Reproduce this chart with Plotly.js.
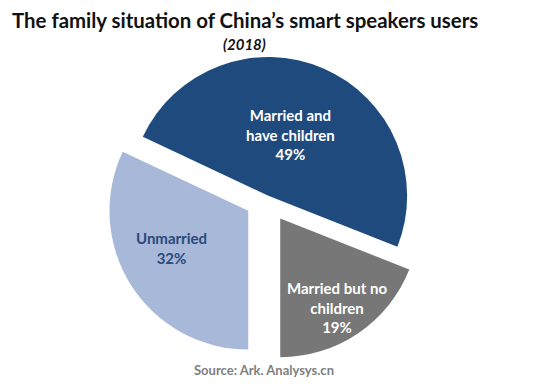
<!DOCTYPE html>
<html>
<head>
<meta charset="utf-8">
<script src="https://cdn.plot.ly/plotly-3.0.1.min.js"></script>
<style>html,body{margin:0;padding:0;background:#fff;}#chart{width:557px;height:387px;}</style>
</head>
<body>
<div id="chart"></div>
<script>
// Data
var categories = ["Married and<br>have children", "Married but no<br>children", "Unmarried"];
var shares = [49, 19, 32];
var titleText = "The family situation of China’s smart speakers users";
var subtitleText = "(2018)";
var sourceText = "Source: Ark. Analysys.cn";

// Styling (not data)
var sliceColors = ["#1f4a7e", "#777777", "#a8b8d8"];
var labelColors = ["#ffffff", "#ffffff", "#2a4a7c"];
var pulls = [0.025, 0.17, 0.16];
var labelPos = [[290, 135], [337, 307], [171, 248]]; // pixel centres
var W = 557, H = 387;
var FONT = "Lato, 'Open Sans', Arial, sans-serif";

var trace = {
  type: "pie",
  labels: categories,
  values: shares,
  sort: false,
  direction: "clockwise",
  rotation: -64.8,
  pull: pulls,
  marker: {colors: sliceColors, line: {width: 0}},
  textinfo: "none",
  hoverinfo: "label+percent",
  showlegend: false,
  domain: {x: [0.1876, 0.7711], y: [0.0665, 0.9055]}
};

var annotations = [];
for (var i = 0; i < categories.length; i++) {
  annotations.push({
    xref: "paper", yref: "paper",
    x: labelPos[i][0] / W, y: 1 - labelPos[i][1] / H,
    xanchor: "center", yanchor: "middle",
    text: "<b>" + categories[i] + "<br>" + shares[i] + "%</b>",
    showarrow: false,
    font: {family: FONT, size: 15, color: labelColors[i]}
  });
}
annotations.push({
  xref: "paper", yref: "paper", x: 245 / W, y: 1 - 20 / H,
  xanchor: "center", yanchor: "middle", showarrow: false,
  text: "<b>" + titleText + "</b>",
  font: {family: FONT, size: 20.4, color: "#111111"}
});
annotations.push({
  xref: "paper", yref: "paper", x: 244 / W, y: 1 - 44 / H,
  xanchor: "center", yanchor: "middle", showarrow: false,
  text: "<b><i>" + subtitleText + "</i></b>",
  font: {family: FONT, size: 15, color: "#111111"}
});
annotations.push({
  xref: "paper", yref: "paper", x: 264 / W, y: 1 - 370 / H,
  xanchor: "center", yanchor: "middle", showarrow: false,
  text: "<b>" + sourceText + "</b>",
  font: {family: FONT, size: 13, color: "#808080"}
});

var layout = {
  width: W, height: H,
  margin: {l: 0, r: 0, t: 0, b: 0},
  paper_bgcolor: "#ffffff",
  annotations: annotations
};

Plotly.newPlot("chart", [trace], layout, {displayModeBar: false, staticPlot: true});
</script>
</body>
</html>
